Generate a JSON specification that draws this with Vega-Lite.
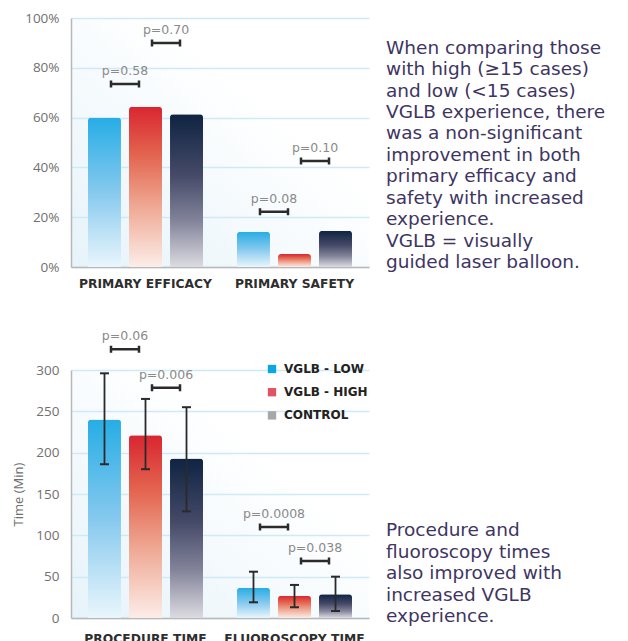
{
  "$schema": "https://vega.github.io/schema/vega-lite/v6.json",
  "padding": {"left": 12, "top": 11, "right": 0, "bottom": 0},
  "background": "#ffffff",
  "config": {
    "view": {"stroke": null},
    "font": "Open Sans",
    "axis": {"ticks": false, "domainColor": "#b8b8b8", "domainWidth": 1.5, "gridColor": "#cfeaf6", "gridWidth": 1.5}
  },
  "datasets": {
    "topBars": [
      {"measure": "PRIMARY EFFICACY", "group": "VGLB - LOW", "value": 0.60},
      {"measure": "PRIMARY EFFICACY", "group": "VGLB - HIGH", "value": 0.644},
      {"measure": "PRIMARY EFFICACY", "group": "CONTROL", "value": 0.613},
      {"measure": "PRIMARY SAFETY", "group": "VGLB - LOW", "value": 0.142},
      {"measure": "PRIMARY SAFETY", "group": "VGLB - HIGH", "value": 0.052},
      {"measure": "PRIMARY SAFETY", "group": "CONTROL", "value": 0.145}
    ],
    "topP": [
      {"measure": "PRIMARY EFFICACY", "group": "LH", "value": 0.735, "p": "p=0.58"},
      {"measure": "PRIMARY EFFICACY", "group": "HC", "value": 0.90, "p": "p=0.70"},
      {"measure": "PRIMARY SAFETY", "group": "LH", "value": 0.222, "p": "p=0.08"},
      {"measure": "PRIMARY SAFETY", "group": "HC", "value": 0.426, "p": "p=0.10"}
    ],
    "botBars": [
      {"measure": "PROCEDURE TIME", "group": "VGLB - LOW", "value": 240, "lo": 186, "hi": 296},
      {"measure": "PROCEDURE TIME", "group": "VGLB - HIGH", "value": 221, "lo": 180, "hi": 265},
      {"measure": "PROCEDURE TIME", "group": "CONTROL", "value": 193, "lo": 129, "hi": 255},
      {"measure": "FLUOROSCOPY TIME", "group": "VGLB - LOW", "value": 36.6, "lo": 19, "hi": 56},
      {"measure": "FLUOROSCOPY TIME", "group": "VGLB - HIGH", "value": 27, "lo": 13, "hi": 40},
      {"measure": "FLUOROSCOPY TIME", "group": "CONTROL", "value": 28.6, "lo": 8.5, "hi": 50}
    ],
    "botP": [
      {"measure": "PROCEDURE TIME", "group": "LH", "value": 325, "p": "p=0.06"},
      {"measure": "PROCEDURE TIME", "group": "HC", "value": 278.6, "p": "p=0.006"},
      {"measure": "FLUOROSCOPY TIME", "group": "LH", "value": 110, "p": "p=0.0008"},
      {"measure": "FLUOROSCOPY TIME", "group": "HC", "value": 69, "p": "p=0.038"}
    ],
    "notes": [
      {"panel": "top", "note": "When comparing those\nwith high (≥15 cases)\nand low (<15 cases)\nVGLB experience, there\nwas a non-significant\nimprovement in both\nprimary efficacy and\nsafety with increased\nexperience.\nVGLB = visually\nguided laser balloon."},
      {"panel": "bottom", "note": "Procedure and\nfluoroscopy times\nalso improved with\nincreased VGLB\nexperience."}
    ]
  },
  "resolve": {"legend": {"color": "independent"}},
  "columns": 2,
  "spacing": {"row": 40, "column": 17},
  "concat": [
    {
      "width": 298,
      "height": 249,
      "view": {"fill": {"gradient": "linear", "x1": 0, "y1": 1, "x2": 1, "y2": 0, "stops": [{"offset": 0, "color": "#e6f3fa"}, {"offset": 0.65, "color": "#ffffff"}]}},
      "encoding": {
        "x": {"field": "measure", "type": "nominal", "sort": ["PRIMARY EFFICACY", "PRIMARY SAFETY"], "title": null,
              "scale": {"paddingInner": 0.228, "paddingOuter": 0.114},
              "axis": {"labelAngle": 0, "labelFont": "DejaVu Sans", "labelFontWeight": "bold", "labelFontSize": 12.3, "labelColor": "#2e2e2e", "labelPadding": 10, "grid": false}},
        "xOffset": {"field": "group", "type": "nominal",
                    "scale": {"domain": ["VGLB - LOW", "LH", "VGLB - HIGH", "HC", "CONTROL"], "paddingInner": 0, "paddingOuter": 0.305}}
      },
      "layer": [
        {
          "data": {"name": "topBars"},
          "transform": [{"filter": "datum.group === 'VGLB - LOW'"}],
          "mark": {"type": "bar", "width": 33, "cornerRadiusTopLeft": 3, "cornerRadiusTopRight": 3,
                   "color": {"gradient": "linear", "x1": 0, "y1": 0, "x2": 0, "y2": 1, "stops": [{"offset": 0, "color": "#26ade5"}, {"offset": 0.5, "color": "#86c9ee"}, {"offset": 1, "color": "#eaf6fc"}]}},
          "encoding": {"y": {"field": "value", "type": "quantitative", "title": null,
                             "scale": {"domain": [0, 1], "nice": false},
                             "axis": {"values": [0, 0.2, 0.4, 0.6, 0.8, 1], "format": ".0%", "labelFontSize": 13.5, "labelColor": "#707070", "labelPadding": 12}}}
        },
        {
          "data": {"name": "topBars"},
          "transform": [{"filter": "datum.group === 'VGLB - HIGH'"}],
          "mark": {"type": "bar", "width": 33, "cornerRadiusTopLeft": 3, "cornerRadiusTopRight": 3,
                   "color": {"gradient": "linear", "x1": 0, "y1": 0, "x2": 0, "y2": 1, "stops": [{"offset": 0, "color": "#d92630"}, {"offset": 0.3, "color": "#e3644f"}, {"offset": 0.6, "color": "#eea48f"}, {"offset": 1, "color": "#fcede8"}]}},
          "encoding": {"y": {"field": "value", "type": "quantitative"}}
        },
        {
          "data": {"name": "topBars"},
          "transform": [{"filter": "datum.group === 'CONTROL'"}],
          "mark": {"type": "bar", "width": 33, "cornerRadiusTopLeft": 3, "cornerRadiusTopRight": 3,
                   "color": {"gradient": "linear", "x1": 0, "y1": 0, "x2": 0, "y2": 1, "stops": [{"offset": 0, "color": "#0f2342"}, {"offset": 0.4, "color": "#454a68"}, {"offset": 0.7, "color": "#83849a"}, {"offset": 1, "color": "#dcdbe1"}]}},
          "encoding": {"y": {"field": "value", "type": "quantitative"}}
        },
        {
          "data": {"name": "topP"},
          "mark": {"type": "point", "shape": "M-1,0H1M-1,-0.25V0.25M1,-0.25V0.25", "size": 784, "filled": false, "stroke": "#2b2b2b", "strokeWidth": 2.5, "opacity": 1},
          "encoding": {"y": {"field": "value", "type": "quantitative"}}
        },
        {
          "data": {"name": "topP"},
          "mark": {"type": "text", "dy": -13, "font": "DejaVu Sans", "fontSize": 12.5, "color": "#8a8a8a", "baseline": "middle"},
          "encoding": {"y": {"field": "value", "type": "quantitative"}, "text": {"field": "p"}}
        }
      ]
    },
    {
      "width": 240,
      "height": 249,
      "data": {"name": "notes"},
      "transform": [{"filter": "datum.panel === 'top'"}],
      "mark": {"type": "text", "align": "left", "baseline": "top", "lineBreak": "\n", "fontSize": 18.5, "lineHeight": 21.45, "color": "#3e3562", "font": "DejaVu Sans"},
      "encoding": {
        "x": {"datum": 0, "type": "quantitative", "scale": {"domain": [0, 1]}, "axis": null},
        "y": {"datum": 0.917, "type": "quantitative", "scale": {"domain": [0, 1]}, "axis": null},
        "text": {"field": "note"}
      }
    },
    {
      "width": 298,
      "height": 248,
      "view": {"fill": {"gradient": "linear", "x1": 0, "y1": 1, "x2": 1, "y2": 0, "stops": [{"offset": 0, "color": "#e6f3fa"}, {"offset": 0.65, "color": "#ffffff"}]}},
      "encoding": {
        "x": {"field": "measure", "type": "nominal", "sort": ["PROCEDURE TIME", "FLUOROSCOPY TIME"], "title": null,
              "scale": {"paddingInner": 0.228, "paddingOuter": 0.114},
              "axis": {"labelAngle": 0, "labelFont": "DejaVu Sans", "labelFontWeight": "bold", "labelFontSize": 12.3, "labelColor": "#2e2e2e", "labelPadding": 14, "grid": false}},
        "xOffset": {"field": "group", "type": "nominal",
                    "scale": {"domain": ["VGLB - LOW", "LH", "VGLB - HIGH", "HC", "CONTROL"], "paddingInner": 0, "paddingOuter": 0.305}}
      },
      "layer": [
        {
          "data": {"name": "botBars"},
          "transform": [{"filter": "datum.group === 'VGLB - LOW'"}],
          "mark": {"type": "bar", "width": 33, "cornerRadiusTopLeft": 3, "cornerRadiusTopRight": 3,
                   "color": {"gradient": "linear", "x1": 0, "y1": 0, "x2": 0, "y2": 1, "stops": [{"offset": 0, "color": "#26ade5"}, {"offset": 0.5, "color": "#86c9ee"}, {"offset": 1, "color": "#eaf6fc"}]}},
          "encoding": {"y": {"field": "value", "type": "quantitative", "title": "Time (Min)",
                             "scale": {"domain": [0, 300], "nice": false},
                             "axis": {"values": [0, 50, 100, 150, 200, 250, 300], "labelFontSize": 13.5, "labelColor": "#707070", "labelPadding": 12,
                                      "titleFontSize": 13, "titleFontWeight": "normal", "titleColor": "#707070", "titlePadding": 10}}}
        },
        {
          "data": {"name": "botBars"},
          "transform": [{"filter": "datum.group === 'VGLB - HIGH'"}],
          "mark": {"type": "bar", "width": 33, "cornerRadiusTopLeft": 3, "cornerRadiusTopRight": 3,
                   "color": {"gradient": "linear", "x1": 0, "y1": 0, "x2": 0, "y2": 1, "stops": [{"offset": 0, "color": "#d92630"}, {"offset": 0.3, "color": "#e3644f"}, {"offset": 0.6, "color": "#eea48f"}, {"offset": 1, "color": "#fcede8"}]}},
          "encoding": {"y": {"field": "value", "type": "quantitative"}}
        },
        {
          "data": {"name": "botBars"},
          "transform": [{"filter": "datum.group === 'CONTROL'"}],
          "mark": {"type": "bar", "width": 33, "cornerRadiusTopLeft": 3, "cornerRadiusTopRight": 3,
                   "color": {"gradient": "linear", "x1": 0, "y1": 0, "x2": 0, "y2": 1, "stops": [{"offset": 0, "color": "#0f2342"}, {"offset": 0.4, "color": "#454a68"}, {"offset": 0.7, "color": "#83849a"}, {"offset": 1, "color": "#dcdbe1"}]}},
          "encoding": {"y": {"field": "value", "type": "quantitative"}}
        },
        {
          "data": {"name": "botBars"},
          "mark": {"type": "square", "opacity": 0},
          "encoding": {
            "y": {"field": "value", "type": "quantitative"},
            "color": {"field": "group", "type": "nominal",
                      "scale": {"domain": ["VGLB - LOW", "VGLB - HIGH", "CONTROL"], "range": ["#0ba6e4", "#e05563", "#a7a7a7"]},
                      "legend": {"orient": "none", "legendX": 195, "legendY": -7, "title": null, "symbolType": "square", "symbolSize": 70,
                                 "symbolOpacity": 1, "symbolStrokeWidth": 0, "labelFont": "DejaVu Sans", "labelFontWeight": "bold", "labelFontSize": 12, "labelColor": "#222222",
                                 "rowPadding": 11.2, "labelOffset": 6, "padding": 0}}
          }
        },
        {
          "data": {"name": "botBars"},
          "mark": {"type": "rule", "color": "#2a2a2a", "strokeWidth": 1.8},
          "encoding": {"y": {"field": "lo", "type": "quantitative"}, "y2": {"field": "hi"}}
        },
        {
          "data": {"name": "botBars"},
          "mark": {"type": "tick", "color": "#2a2a2a", "size": 9, "thickness": 2, "opacity": 1},
          "encoding": {"y": {"field": "lo", "type": "quantitative"}}
        },
        {
          "data": {"name": "botBars"},
          "mark": {"type": "tick", "color": "#2a2a2a", "size": 9, "thickness": 2, "opacity": 1},
          "encoding": {"y": {"field": "hi", "type": "quantitative"}}
        },
        {
          "data": {"name": "botP"},
          "mark": {"type": "point", "shape": "M-1,0H1M-1,-0.25V0.25M1,-0.25V0.25", "size": 784, "filled": false, "stroke": "#2b2b2b", "strokeWidth": 2.5, "opacity": 1},
          "encoding": {"y": {"field": "value", "type": "quantitative"}}
        },
        {
          "data": {"name": "botP"},
          "mark": {"type": "text", "dy": -13, "font": "DejaVu Sans", "fontSize": 12.5, "color": "#8a8a8a", "baseline": "middle"},
          "encoding": {"y": {"field": "value", "type": "quantitative"}, "text": {"field": "p"}}
        }
      ]
    },
    {
      "width": 240,
      "height": 248,
      "data": {"name": "notes"},
      "transform": [{"filter": "datum.panel === 'bottom'"}],
      "mark": {"type": "text", "align": "left", "baseline": "top", "lineBreak": "\n", "fontSize": 18.5, "lineHeight": 21.45, "color": "#3e3562", "font": "DejaVu Sans"},
      "encoding": {
        "x": {"datum": 0, "type": "quantitative", "scale": {"domain": [0, 1]}, "axis": null},
        "y": {"datum": 0.39, "type": "quantitative", "scale": {"domain": [0, 1]}, "axis": null},
        "text": {"field": "note"}
      }
    }
  ]
}
